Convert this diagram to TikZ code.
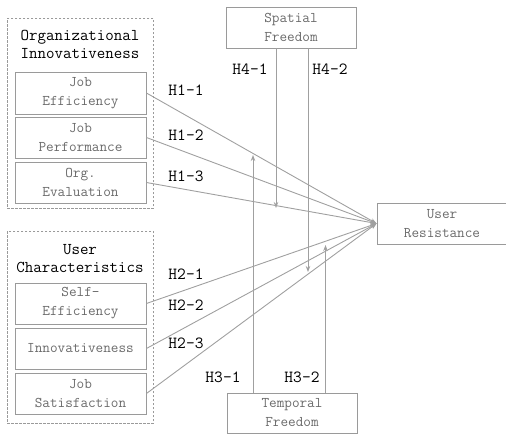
\documentclass[tikz,border=0pt]{standalone}
\usepackage{fontspec}
\usetikzlibrary{arrows.meta}
\definecolor{boxgray}{HTML}{9A9A9A}
\definecolor{txtgray}{HTML}{6A6A6A}
\definecolor{linegray}{HTML}{A0A0A0}
\tikzset{
  varbox/.style={draw=boxgray, line width=0.9pt, text=txtgray, align=center,
    font=\ttfamily\fontsize{14.8}{19}\selectfont, inner sep=0pt},
  groupbox/.style={draw=boxgray, line width=0.8pt, dash pattern=on 2.5pt off 1.5pt},
  grouptitle/.style={align=center, font=\ttfamily\fontsize{16.5}{18}\selectfont, text=black},
  hlabel/.style={font=\ttfamily\fontsize{17}{18}\selectfont, text=black, inner sep=0pt},
  conn/.style={draw=linegray, line width=0.9pt, -{Stealth[length=6pt,width=4.5pt]}},
}
\begin{document}
\begin{tikzpicture}[x=1pt,y=-1pt]
\useasboundingbox (0,0) rectangle (506,434);
% group boxes
\node[groupbox, minimum width=146pt, minimum height=190pt, anchor=north west, inner sep=0pt] (g1) at (7,18) {};
\node[groupbox, minimum width=146pt, minimum height=192pt, anchor=north west, inner sep=0pt] (g2) at (7,231) {};
\node[grouptitle] (t1) at (80,44) {Organizational\\Innovativeness};
\node[grouptitle] (t2) at (80,259) {User\\Characteristics};
% inner boxes
\node[varbox, minimum width=131pt, minimum height=42pt] (je) at (80.5,93) {Job\\Efficiency};
\node[varbox, minimum width=131pt, minimum height=41pt] (jp) at (80.5,137.5) {Job\\Performance};
\node[varbox, minimum width=131pt, minimum height=41pt] (oe) at (80.5,182.5) {Org.\\Evaluation};
\node[varbox, minimum width=131pt, minimum height=41pt] (se) at (80.5,303.5) {Self-\\Efficiency};
\node[varbox, minimum width=131pt, minimum height=41pt] (in) at (80.5,348.5) {Innovativeness};
\node[varbox, minimum width=131pt, minimum height=41pt] (js) at (80.5,393.5) {Job\\Satisfaction};
% other nodes
\node[varbox, minimum width=130pt, minimum height=41pt] (sf) at (291,27.5) {Spatial\\Freedom};
\node[varbox, minimum width=130pt, minimum height=40pt] (tf) at (292,413) {Temporal\\Freedom};
\node[varbox, minimum width=130pt, minimum height=41pt] (ur) at (442,223.5) {User\\Resistance};
% main connectors
\foreach \s in {je,jp,oe,se,in,js} { \draw[conn] (\s.east) -- (ur.west); }
% moderating arrows
\coordinate (a41) at (276,208);
\coordinate (a42) at (308,272);
\coordinate (a31) at (253,155);
\coordinate (a32) at (325.5,245);
\draw[conn] (sf.south -| a41) -- (a41);
\draw[conn] (sf.south -| a42) -- (a42);
\draw[conn] (tf.north -| a31) -- (a31);
\draw[conn] (tf.north -| a32) -- (a32);
% labels
\node[hlabel] (h11) at (186,90) {H1-1};
\node[hlabel] (h12) at (186,135) {H1-2};
\node[hlabel] (h13) at (186,176) {H1-3};
\node[hlabel] (h21) at (186,274) {H2-1};
\node[hlabel] (h22) at (186,305) {H2-2};
\node[hlabel] (h23) at (186,343) {H2-3};
\node[hlabel] (h31) at (223,377) {H3-1};
\node[hlabel] (h32) at (302,377) {H3-2};
\node[hlabel] (h41) at (250,69) {H4-1};
\node[hlabel] (h42) at (330,69) {H4-2};
\end{tikzpicture}
\end{document}
